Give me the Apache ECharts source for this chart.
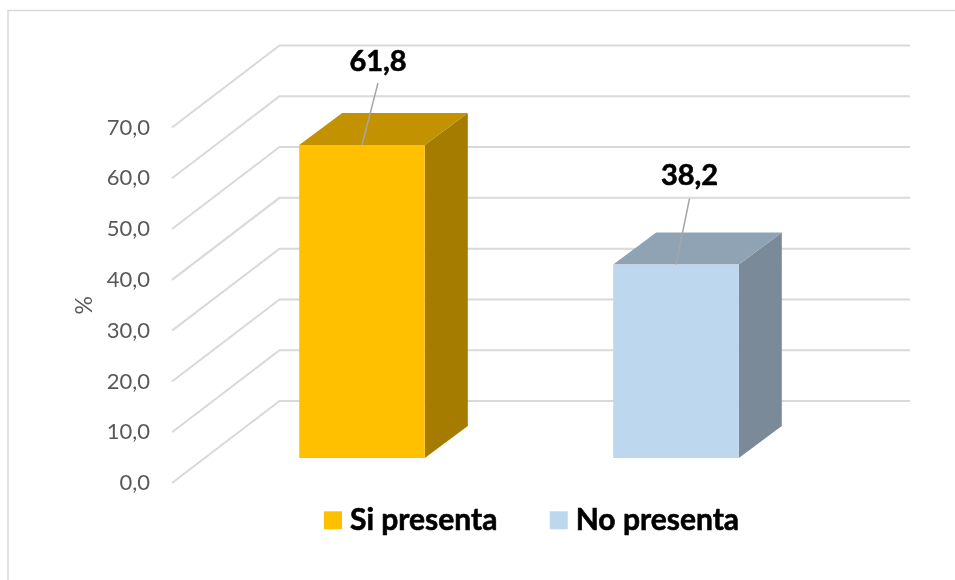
<!DOCTYPE html>
<html>
<head>
<meta charset="utf-8">
<style>html,body{margin:0;padding:0;background:#fff}#chart{width:955px;height:580px}</style>
<script src="https://cdn.jsdelivr.net/npm/echarts@6/dist/echarts.min.js"></script>
</head>
<body>
<div id="chart"></div>
<script>
// Percentages by group
const categories = ['Si presenta', 'No presenta'];
const values = [61.8, 38.2];
const tickValues = [0, 10, 20, 30, 40, 50, 60, 70];
const frontColors = ['#FFC000', '#BDD7EE'];
const topColors = ['#C29200', '#8FA3B5'];
const sideColors = ['#A67C00', '#7A8A99'];

const FONT = 'Lato, "Open Sans", sans-serif';
const fmt = v => v.toFixed(1).replace('.', ',');

// Oblique offset between the front plane and the back wall of the chart box
const WALL_DX = 107.5, WALL_DY = 82;
// Oblique depth of each bar
const BAR_DX = 43, BAR_DY = 32;
const BAR_RATIO = 0.4;

function renderWall(params, api) {
  const v = api.value(0);
  const a = api.coord([0, v]);
  const b = api.coord([1, v]);
  return {
    type: 'polyline',
    shape: { points: [a, [a[0] + WALL_DX, a[1] - WALL_DY], [b[0], b[1] - WALL_DY]] },
    style: { stroke: '#D9D9D9', lineWidth: 2, fill: null }
  };
}

function renderBar(params, api) {
  const idx = api.value(0);
  const val = api.value(1);
  const top = api.coord([idx, val]);
  const base = api.coord([idx, 0]);
  const w = api.size([1, 0])[0] * BAR_RATIO;
  const l = top[0] - w / 2, r = top[0] + w / 2;
  // Leader line running from the top face up to the value label
  const leadX = top[0] + (idx === 0 ? 16 : 13.5);
  const leadY = top[1] - (idx === 0 ? 62 : 66);
  return {
    type: 'group',
    children: [
      { type: 'polygon',
        shape: { points: [[r, top[1]], [r + BAR_DX, top[1] - BAR_DY], [r + BAR_DX, base[1] - BAR_DY], [r, base[1]]] },
        style: { fill: sideColors[idx] } },
      { type: 'polygon',
        shape: { points: [[l, top[1]], [l + BAR_DX, top[1] - BAR_DY], [r + BAR_DX, top[1] - BAR_DY], [r, top[1]]] },
        style: { fill: topColors[idx] } },
      { type: 'rect',
        shape: { x: l, y: top[1], width: w, height: base[1] - top[1] },
        style: { fill: frontColors[idx] } },
      { type: 'line',
        shape: { x1: top[0], y1: top[1], x2: leadX, y2: leadY },
        style: { stroke: '#A6A6A6', lineWidth: 1.5 } },
      { type: 'text',
        style: {
          text: fmt(val), x: leadX, y: leadY - (idx === 0 ? 21 : 23),
          align: 'center', verticalAlign: 'middle',
          font: 'bold 29px ' + FONT, fill: '#000', stroke: '#000', lineWidth: 0.6
        } }
    ]
  };
}

const barSeries = categories.map((name, i) => ({
  name,
  type: 'custom',
  xAxisIndex: 1,
  yAxisIndex: 1,
  z: 3,
  itemStyle: { color: frontColors[i] },
  encode: { x: 0, y: 1 },
  data: [[i, values[i]]],
  renderItem: renderBar
}));

const chart = echarts.init(document.getElementById('chart'), null, { renderer: 'canvas' });
chart.setOption({
  backgroundColor: '#fff',
  animation: false,
  textStyle: { fontFamily: FONT },
  grid: [
    { left: 172, top: 127.5, width: 738, height: 355.5 },
    { left: 205, top: 103.45, width: 628, height: 354.55 }
  ],
  xAxis: [
    { type: 'value', gridIndex: 0, min: 0, max: 1, show: false },
    { type: 'category', gridIndex: 1, data: categories, show: false }
  ],
  yAxis: [
    {
      type: 'value', gridIndex: 0, min: 0, max: 70, interval: 10,
      name: '%', nameLocation: 'middle', nameGap: 76, nameRotate: 90,
      nameTextStyle: { color: '#595959', fontSize: 23, fontFamily: FONT },
      axisLine: { show: false }, axisTick: { show: false }, splitLine: { show: false },
      axisLabel: { color: '#595959', fontSize: 22, margin: 22, padding: [6, 0, 0, 0], fontFamily: FONT, formatter: v => fmt(v) }
    },
    { type: 'value', gridIndex: 1, min: 0, max: 70, show: false }
  ],
  legend: {
    data: categories,
    left: 319, top: 500,
    icon: 'rect',
    itemWidth: 18, itemHeight: 18, itemGap: 52,
    textStyle: {
      color: '#000', fontSize: 30, fontWeight: 'bold', fontFamily: FONT,
      padding: [0, 0, 0, 3], textBorderColor: '#000', textBorderWidth: 0.6
    }
  },
  graphic: [{
    type: 'polyline',
    silent: true,
    shape: { points: [[8, 580], [8, 10.5], [955, 10.5]] },
    style: { stroke: '#D9D9D9', lineWidth: 1.5, fill: null }
  }],
  series: [
    {
      type: 'custom',
      name: 'wall',
      xAxisIndex: 0, yAxisIndex: 0,
      z: 1,
      silent: true,
      encode: { y: 0 },
      data: tickValues.map(v => [v]),
      renderItem: renderWall
    },
    ...barSeries
  ]
});
</script>
</body>
</html>
